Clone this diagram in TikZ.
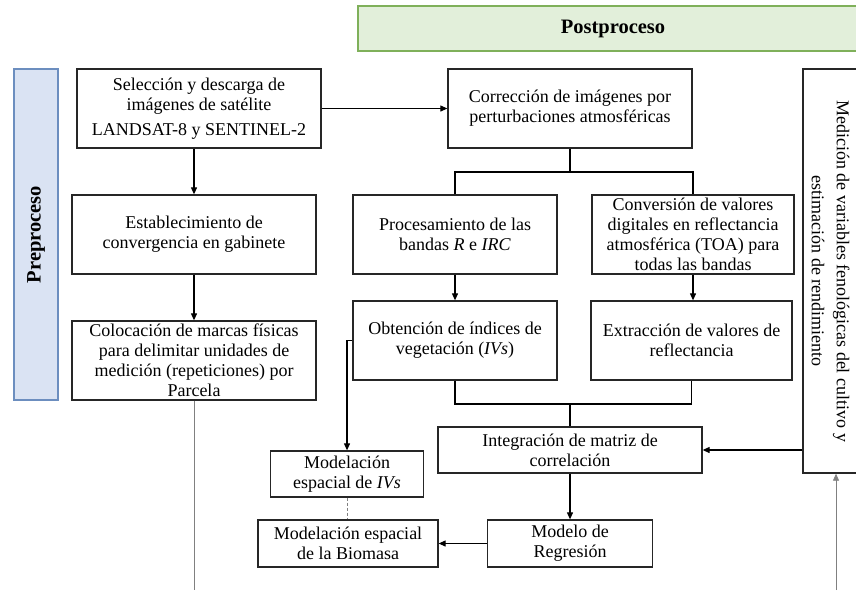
\documentclass[tikz,border=0pt]{standalone}
\usepackage{fontspec}
\setmainfont{Liberation Serif}
\usetikzlibrary{arrows.meta}
\definecolor{prefill}{HTML}{DAE3F3}
\definecolor{predraw}{HTML}{6C8EBF}
\definecolor{postfill}{HTML}{E2EFDA}
\definecolor{postdraw}{HTML}{7FB05A}
\begin{document}
\begin{tikzpicture}[x=1pt,y=-1pt,
  box/.style={draw=black!85, line width=1.3pt, inner sep=0pt, align=center, font=\fontsize{18}{20}\selectfont},
  conn/.style={line width=1.1pt, black},
  arr/.style={conn, -{Triangle[length=7pt,width=6pt]}},
  thinline/.style={line width=0.8pt, gray},
  phase/.style={line width=1.2pt, inner sep=0pt, font=\bfseries\fontsize{20.5}{24}\selectfont}
]
\useasboundingbox (0,0) rectangle (856,590);
\clip (0,0) rectangle (856,590);

% phase bars
\node[phase, draw=predraw, fill=prefill, rotate=90, minimum width=331, minimum height=44] (pre) at (36,234.5) {Preproceso};
\node[phase, draw=postdraw, fill=postfill, minimum width=510, minimum height=45] (post) at (613,28.5) {Postproceso};

% boxes
\node[box, minimum width=244, minimum height=79] (sel) at (199,108.5) {Selección y descarga de\\imágenes de satélite\\[5pt]LANDSAT-8 y SENTINEL-2};
\node[box, minimum width=244, minimum height=79] (est) at (194,234.5) {Establecimiento de\\convergencia en gabinete};
\node[box, minimum width=244, minimum height=79] (col) at (194,360.5) {Colocación de marcas físicas\\para delimitar unidades de\\medición (repeticiones) por\\Parcela};
\node[box, minimum width=244, minimum height=79] (cor) at (570,108.5) {Corrección de imágenes por\\perturbaciones atmosféricas};
\node[box, minimum width=204, minimum height=79] (pro) at (455,234.5) {Procesamiento de las\\bandas \textit{R} e \textit{IRC}};
\node[box, minimum width=202, minimum height=79] (con) at (693,234.5) {Conversión de valores\\digitales en reflectancia\\atmosférica (TOA) para\\todas las bandas};
\node[box, minimum width=204, minimum height=79] (obt) at (455,340.5) {Obtención de índices de\\vegetación (\textit{IVs})};
\node[box, minimum width=201, minimum height=79] (ext) at (691.5,340.5) {Extracción de valores de\\reflectancia};
\node[box, minimum width=264, minimum height=46] (int) at (570,450) {Integración de matriz de\\correlación};
\node[box, minimum width=165, minimum height=47] (mod) at (570,543.5) {Modelo de\\Regresión};
\node[box, minimum width=180, minimum height=47] (bio) at (348,543.5) {Modelación espacial\\de la Biomasa};
\node[box, minimum width=153, minimum height=46] (ivs) at (347,474) {Modelación\\espacial de \textit{IVs}};
\node[box, minimum width=55, minimum height=404] (med) at (830.5,271) {};
\node[rotate=-90, align=center, inner sep=0pt, font=\fontsize{18}{25}\selectfont] (medtxt) at (med.center) {Medición de variables fenológicas del cultivo y\\estimación de rendimiento};

% connectors
\draw[arr] (sel) -- (cor);
\draw[arr] (sel.south -| est.north) -- (est.north);
\draw[arr] (est) -- (col);
\coordinate (colend) at (194,590);
\draw[thinline] (col.south) -- (colend);

\coordinate (corjoin) at (570,172);
\draw[conn] (cor.south) -- (corjoin);
\draw[conn] (pro.north) |- (corjoin) -| (con.north);
\draw[arr] (pro) -- (obt);
\draw[arr] (con.south) -- (con.south |- ext.north);

\coordinate (obtjoin) at (570,404);
\draw[conn] (obt.south) |- (obtjoin) -| (ext.south);
\draw[conn] (obtjoin) -- (int.north);
\draw[arr] (int) -- (mod);
\draw[arr] (mod.west) -- (bio.east);

\coordinate (obtl) at (347,340.5);
\draw[arr] (obt.west) -- (obtl) -- (obtl |- ivs.north);
\draw[thinline, dash pattern=on 3pt off 2pt] (ivs.south) -- (ivs.south |- bio.north);

\draw[arr] (med.west |- int.east) -- (int.east);
\coordinate (medend) at (836,590);
\draw[thinline, -{Triangle[length=7pt,width=6pt]}] (medend) -- (medend |- med.south);
\end{tikzpicture}
\end{document}
